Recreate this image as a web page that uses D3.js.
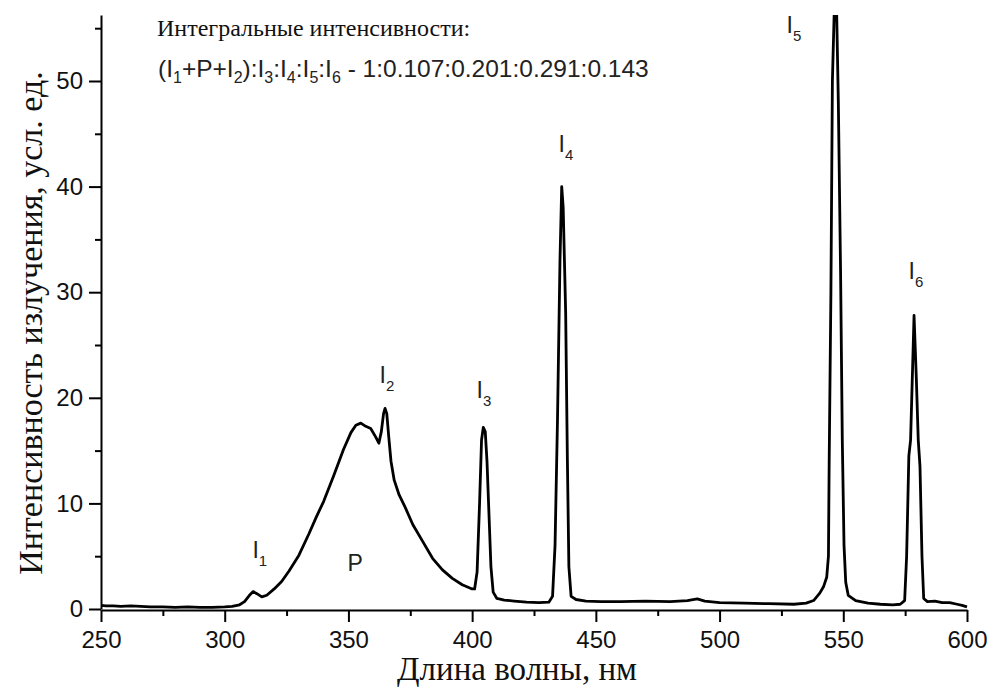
<html>
  <head>
    <meta charset="utf-8"/>
    <style>
      body {
        margin: 0;
        background: white;
      }
      .axis path, .axis line {
        stroke: black;
        stroke-width: 2;
      }
      .axis text {
        font-family: "Liberation Sans", Arial, sans-serif;
        font-size: 24px;
        fill: #111;
      }
      .serif {
        font-family: "Liberation Serif", "Times New Roman", serif;
        fill: #111;
      }
      .sans {
        font-family: "Liberation Sans", Arial, sans-serif;
        fill: #222;
      }
    </style>
    <script src="https://d3js.org/d3.v7.min.js"></script>
  </head>
  <body>
    <script>
    var width = 990, height = 689;

    // spectrum
    var wavelength = [250, 252, 255, 258, 262, 266, 270, 275, 280, 285, 290, 295, 300, 303, 306, 308,
      310, 311.5, 313, 315, 317, 320, 323, 326, 330, 334, 337, 340, 344, 348, 351, 353, 355, 357, 359,
      361, 362.3, 363.3, 364.2, 364.8, 365.5, 366.3, 367.2, 368.5, 370.5, 373, 376, 380, 384, 388, 392,
      396, 400, 401, 402, 403, 403.8, 404.5, 405.3, 406, 406.8, 407.6, 408.5, 410, 413, 417, 422, 427,
      431, 432.5, 433.5, 434.5, 435.5, 436.2, 436.8, 437.8, 438.5, 439.1, 440, 442, 446, 452, 460, 470,
      480, 487, 491, 494, 500, 510, 520, 530, 535, 538, 540.5, 542, 543.3, 544, 544.3, 545.0, 545.6,
      546.5, 547.2, 548.0, 548.9, 549.6, 550.3, 551, 552, 555, 560, 565, 570, 573, 574.8, 575.6, 576.5,
      577.2, 578.6, 579.5, 580.3, 581, 581.8, 582.5, 584, 587, 590, 593, 596, 598, 600];
    var intensity = [0.35, 0.3, 0.3, 0.25, 0.3, 0.25, 0.2, 0.2, 0.15, 0.2, 0.15, 0.15, 0.2, 0.25, 0.4, 0.7,
      1.3, 1.65, 1.45, 1.15, 1.3, 1.9, 2.6, 3.6, 5.1, 7.1, 8.7, 10.2, 12.6, 15.1, 16.7, 17.4, 17.6, 17.3, 17.1,
      16.3, 15.7, 16.8, 18.5, 19.0, 18.5, 16.3, 14.0, 12.2, 10.8, 9.6, 8.0, 6.4, 4.8, 3.7, 2.9,
      2.3, 1.9, 1.9, 3.5, 10, 16.0, 17.2, 16.8, 14, 9, 4, 1.6, 1.0, 0.85, 0.75, 0.65, 0.6,
      0.65, 1.2, 6, 18, 33, 40, 38, 28, 14, 4, 1.2, 0.9, 0.75, 0.7, 0.7, 0.75,
      0.7, 0.8, 0.95, 0.75, 0.6, 0.55, 0.5, 0.45, 0.55, 0.8, 1.5, 2.1, 3.0, 5, 14, 30, 50,
      58, 58, 48, 32, 16, 6, 2.5, 1.3, 0.8, 0.55, 0.45, 0.4, 0.45, 0.8, 5, 14.5,
      16, 27.8, 22, 16, 13.5, 5, 1.0, 0.7, 0.75, 0.6, 0.6, 0.45, 0.35, 0.2];

    var xTicks = [250, 300, 350, 400, 450, 500, 550, 600];
    var xMinor = [275, 325, 375, 425, 475, 525, 575];
    var yTicks = [0, 10, 20, 30, 40, 50];
    var yMinor = [5, 15, 25, 35, 45, 55];

    // peak labels: name, subscript, anchor in data units
    var peakNames = ["I", "P", "I", "I", "I", "I", "I"];
    var peakSubs = ["1", "", "2", "3", "4", "5", "6"];
    var peakWl = [311.2, 349.6, 362.6, 401.8, 434.9, 527.1, 576.4];
    var peakVal = [4.8, 3.6, 21.4, 20.0, 43.3, 54.5, 31.25];

    // ratio note: text pieces and their subscripts
    var notePieces = ["(I", "+P+I", "):I", ":I", ":I", ":I", " - 1:0.107:0.201:0.291:0.143"];
    var noteSubs = ["1", "2", "3", "4", "5", "6", ""];

    var margin = {left: 101, top: 15, right: 23, bottom: 80};

    var svg = d3.select("body").append("svg")
      .attr("width", width).attr("height", height);

    var x = d3.scaleLinear().domain([250, 600]).range([margin.left, width - margin.right]);
    var y = d3.scaleLinear().domain([0, 56.25]).range([height - margin.bottom, margin.top]);

    svg.append("clipPath").attr("id", "plot")
      .append("rect")
      .attr("x", margin.left).attr("y", margin.top)
      .attr("width", x(600) - margin.left + 4).attr("height", y(0) - margin.top + 4);

    // axes
    svg.append("g").attr("class", "axis")
      .attr("transform", "translate(0," + (y(0) + 1) + ")")
      .call(d3.axisBottom(x).tickValues(xMinor).tickSize(6).tickFormat(""))
      .select(".domain").remove();
    svg.append("g").attr("class", "axis")
      .attr("transform", "translate(0," + (y(0) + 1) + ")")
      .call(d3.axisBottom(x).tickValues(xTicks).tickSize(12).tickSizeOuter(0).tickPadding(9));

    svg.append("g").attr("class", "axis")
      .attr("transform", "translate(" + margin.left + ",0)")
      .call(d3.axisLeft(y).tickValues(yMinor).tickSize(6).tickFormat(""))
      .select(".domain").remove();
    svg.append("g").attr("class", "axis")
      .attr("transform", "translate(" + margin.left + ",0)")
      .call(d3.axisLeft(y).tickValues(yTicks).tickSize(12).tickSizeOuter(0).tickPadding(6));

    // spectrum
    var line = d3.line()
      .x((d, i) => x(wavelength[i]))
      .y(d => y(d));
    svg.append("path")
      .datum(intensity)
      .attr("clip-path", "url(#plot)")
      .attr("d", line)
      .attr("fill", "none")
      .attr("stroke", "black")
      .attr("stroke-width", 2.8)
      .attr("stroke-linejoin", "round");

    // peak labels
    peakNames.forEach(function(n, i) {
      var t = svg.append("text").attr("class", "sans")
        .attr("x", x(peakWl[i])).attr("y", y(peakVal[i]))
        .style("font-size", "23px")
        .text(n);
      if (peakSubs[i]) {
        t.append("tspan").attr("dy", 8).style("font-size", "15px").text(peakSubs[i]);
      }
    });

    // axis titles
    svg.append("text").attr("class", "serif")
      .attr("transform", "translate(42,323) rotate(-90)")
      .attr("text-anchor", "middle")
      .style("font-size", "34px")
      .text("Интенсивность излучения, усл. ед.");
    svg.append("text").attr("class", "serif")
      .attr("x", 517).attr("y", 680)
      .attr("text-anchor", "middle")
      .style("font-size", "33px")
      .text("Длина волны, нм");

    // ratio note
    svg.append("text").attr("class", "serif")
      .attr("x", 157).attr("y", 36)
      .style("font-size", "24px")
      .text("Интегральные интенсивности:");

    var note = svg.append("text").attr("class", "sans")
      .attr("x", 158).attr("y", 77)
      .style("font-size", "24.5px");
    var shift = 0;
    notePieces.forEach(function(p, i) {
      note.append("tspan").attr("dy", -shift).text(p);
      shift = 0;
      if (noteSubs[i]) {
        note.append("tspan").attr("dy", 6).style("font-size", "16px").text(noteSubs[i]);
        shift = 6;
      }
    });
    </script>
  </body>
</html>
